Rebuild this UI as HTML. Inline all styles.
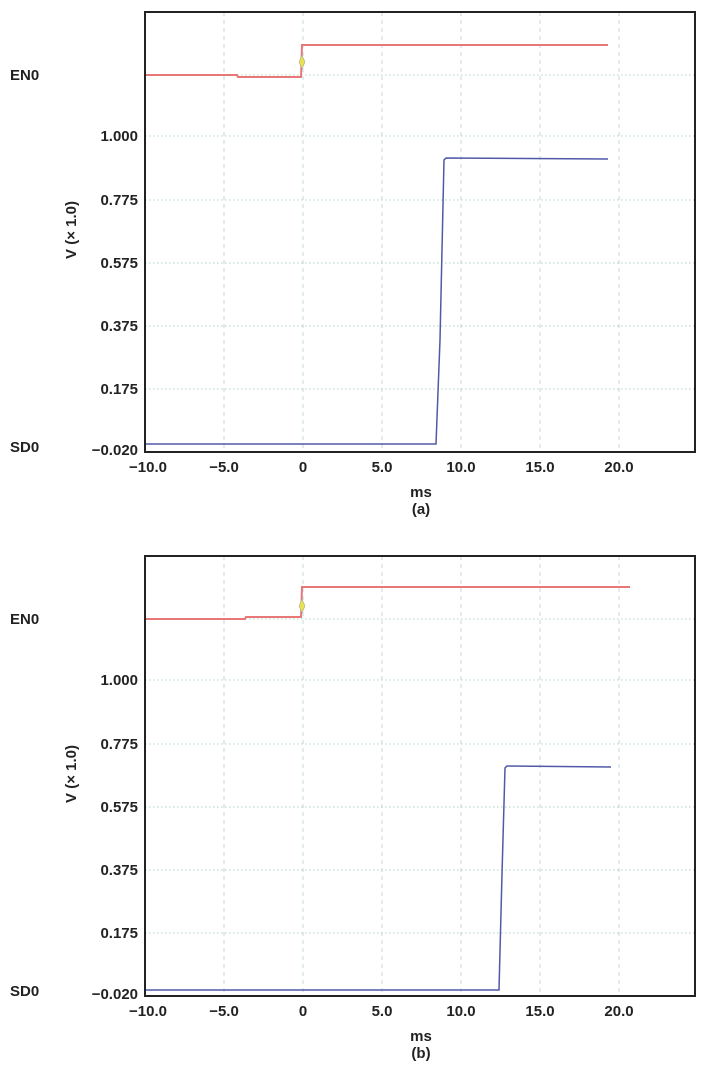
<!DOCTYPE html>
<html><head><style>
body{margin:0;background:#fff}
text{font-family:"Liberation Sans",sans-serif;font-weight:bold;fill:#222}
</style></head><body>
<svg width="708" height="1073" xmlns="http://www.w3.org/2000/svg">
<defs>
<g id="grid">
 <g stroke="#c0d8e2" stroke-width="1" stroke-dasharray="4,4">
  <line x1="224" y1="12" x2="224" y2="452"/><line x1="303" y1="12" x2="303" y2="452"/>
  <line x1="382" y1="12" x2="382" y2="452"/><line x1="461" y1="12" x2="461" y2="452"/>
  <line x1="540" y1="12" x2="540" y2="452"/><line x1="619" y1="12" x2="619" y2="452"/>
 </g>
 <g stroke="#a8d4b4" stroke-width="1" stroke-dasharray="1.5,2.5">
  <line x1="145" y1="75" x2="695" y2="75"/><line x1="145" y1="136" x2="695" y2="136"/>
  <line x1="145" y1="200" x2="695" y2="200"/><line x1="145" y1="263" x2="695" y2="263"/>
  <line x1="145" y1="326" x2="695" y2="326"/><line x1="145" y1="389" x2="695" y2="389"/>
 </g>
 <text x="10" y="80" font-size="15">EN0</text>
 <text x="10" y="452" font-size="15">SD0</text>
 <g font-size="15" text-anchor="end">
  <text x="138" y="141">1.000</text><text x="138" y="205">0.775</text>
  <text x="138" y="268">0.575</text><text x="138" y="331">0.375</text>
  <text x="138" y="394">0.175</text><text x="138" y="455">−0.020</text>
 </g>
 <g font-size="15" text-anchor="middle">
  <text x="148" y="472">−10.0</text><text x="224" y="472">−5.0</text>
  <text x="303" y="472">0</text><text x="382" y="472">5.0</text>
  <text x="461" y="472">10.0</text><text x="540" y="472">15.0</text>
  <text x="619" y="472">20.0</text>
  <text x="421" y="497">ms</text>
 </g>
 <text transform="translate(76,230) rotate(-90)" font-size="15" text-anchor="middle">V (× 1.0)</text>
</g>
</defs>
<g>
 <use href="#grid"/>
 <text x="421" y="514" font-size="15" text-anchor="middle">(a)</text>
 <polyline fill="none" stroke="#e87878" stroke-width="2" points="145,75 237,75 238,77 301,77 302,45 608,45"/>
 <polyline fill="none" stroke="#5058a8" stroke-width="1.5" points="145,444 436,444 440,340 444,160 446,158 608,159"/>
 <path d="M302,55 l3,7 l-3,7 l-3,-7z" fill="#e8e050" stroke="#999" stroke-width="0.5"/>
 <rect x="145" y="12" width="550" height="440" fill="none" stroke="#222" stroke-width="2"/>
</g>
<g transform="translate(0,544)">
 <use href="#grid"/>
 <text x="421" y="514" font-size="15" text-anchor="middle">(b)</text>
 <polyline fill="none" stroke="#e87878" stroke-width="2" points="145,75 245,75 246,73 301,73 302,43 630,43"/>
 <polyline fill="none" stroke="#5058a8" stroke-width="1.5" points="145,446 499,446 502,330 505,224 507,222 611,223"/>
 <path d="M302,55 l3,7 l-3,7 l-3,-7z" fill="#e8e050" stroke="#999" stroke-width="0.5"/>
 <rect x="145" y="12" width="550" height="440" fill="none" stroke="#222" stroke-width="2"/>
</g>
</svg>
</body></html>
